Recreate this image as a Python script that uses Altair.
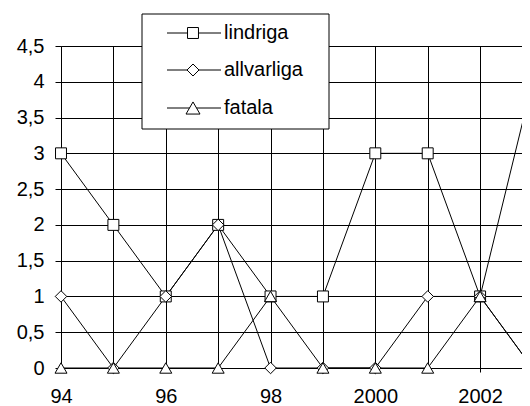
import json
import altair as alt
import pandas as pd

years = [1994, 1995, 1996, 1997, 1998, 1999, 2000, 2001, 2002, 2003]
x_labels = ["94", "", "96", "", "98", "", "2000", "", "2002", ""]
series = ["lindriga", "allvarliga", "fatala"]
lindriga = [3, 2, 1, 2, 1, 1, 3, 3, 1, 4]
allvarliga = [1, 0, 1, 2, 0, 0, 0, 1, 1, 0]
fatala = [0, 0, 0, 0, 1, 0, 0, 0, 1, 0]
y_ticks = [0, 0.5, 1, 1.5, 2, 2.5, 3, 3.5, 4, 4.5]

values = {"lindriga": lindriga, "allvarliga": allvarliga, "fatala": fatala}
rows = []
for s in series:
    for yr, v in zip(years, values[s]):
        rows.append({"year": yr, "value": v, "series": s})
df = pd.DataFrame(rows)

FONT = "Liberation Sans"
shapes = ["square", "diamond", "triangle-up"]
sizes = [120, 144, 196]

x_enc = alt.X(
    "year:Q",
    scale=alt.Scale(domain=[1994, 2002.8], nice=False, zero=False),
    axis=alt.Axis(
        values=years[:-1],
        labelExpr=json.dumps(x_labels) + "[datum.value - 1994]",
        title=None,
        grid=True,
        gridColor="black",
        gridOpacity=1,
        gridWidth=1,
        domainColor="black",
        tickColor="black",
        tickSize=4,
        labelPadding=30,
        labelBaseline="alphabetic",
        labelFont=FONT,
        labelFontSize=20,
        labelColor="black",
        labelFlush=False,
        labelOverlap=False,
    ),
)
y_enc = alt.Y(
    "value:Q",
    scale=alt.Scale(domain=[0, 4.5], nice=False),
    axis=alt.Axis(
        values=y_ticks,
        labelExpr="replace(toString(datum.value), '.', ',')",
        title=None,
        grid=True,
        gridColor="black",
        gridOpacity=1,
        gridWidth=1,
        domainColor="black",
        tickColor="black",
        tickSize=6,
        labelPadding=11,
        labelFont=FONT,
        labelFontSize=20,
        labelColor="black",
        labelOverlap=False,
    ),
)

base = alt.Chart(df)
lines = base.mark_line(color="black", strokeWidth=1).encode(
    x=x_enc, y=y_enc, detail="series:N"
)
points = base.mark_point(
    filled=True, fill="white", stroke="black", strokeWidth=1, opacity=1
).encode(
    x=x_enc,
    y=y_enc,
    shape=alt.Shape("series:N", scale=alt.Scale(domain=series, range=shapes), legend=None),
    size=alt.Size("series:N", scale=alt.Scale(domain=series, range=sizes), legend=None),
)

box = alt.Chart(alt.Data(values=[{"k": 1}])).mark_rect(
    fill="white", stroke="black", strokeWidth=1
).encode(x=alt.value(81), x2=alt.value(268), y=alt.value(-32), y2=alt.value(83))

legend_layers = [box]
legend_y = [-13, 24, 62]
for i, name in enumerate(series):
    d = alt.Data(values=[{"s": name}])
    legend_layers.append(
        alt.Chart(d).mark_rule(color="black", strokeWidth=1).encode(
            x=alt.value(106), x2=alt.value(160), y=alt.value(legend_y[i])
        )
    )
    legend_layers.append(
        alt.Chart(d).mark_point(
            shape=shapes[i], size=sizes[i], filled=True, fill="white",
            stroke="black", strokeWidth=1, opacity=1
        ).encode(x=alt.value(132), y=alt.value(legend_y[i]))
    )
    legend_layers.append(
        alt.Chart(d).mark_text(
            align="left", baseline="middle", font=FONT, fontSize=20, color="black"
        ).encode(x=alt.value(163), y=alt.value(legend_y[i]), text="s:N")
    )

chart = alt.layer(lines, points, *legend_layers).properties(
    width=461,
    height=322,
    padding={"left": 53, "top": 38, "right": 0, "bottom": 38},
    autosize=alt.AutoSizeParams(type="none"),
    background="white",
).configure_view(stroke=None)

chart.save("out.html", embed_options={"renderer": "svg", "actions": False})
